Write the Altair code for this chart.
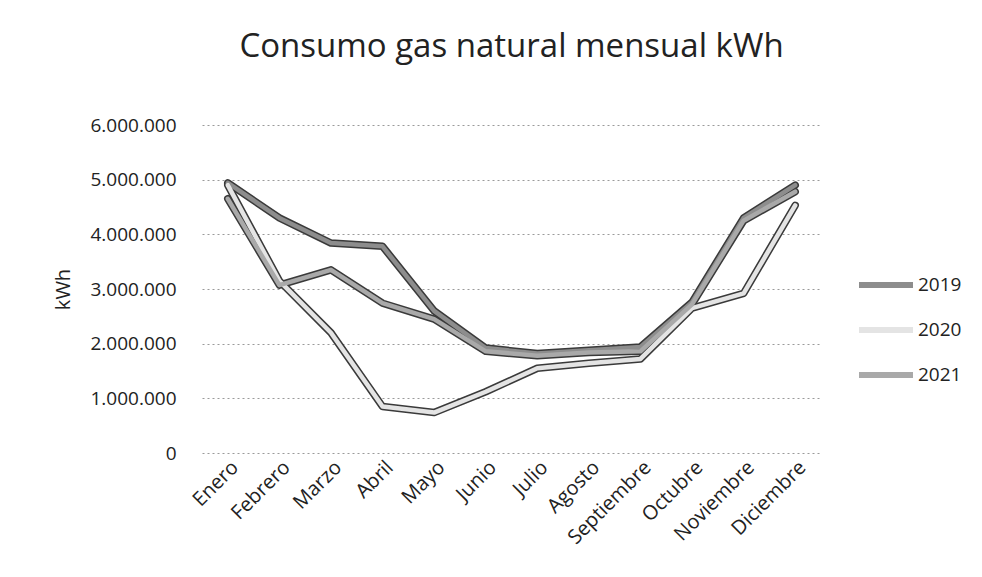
import altair as alt
import pandas as pd

meses = ["Enero", "Febrero", "Marzo", "Abril", "Mayo", "Junio", "Julio",
         "Agosto", "Septiembre", "Octubre", "Noviembre", "Diciembre"]
anios = ["2019", "2020", "2021"]
v2019 = [4940000, 4300000, 3840000, 3780000, 2600000, 1920000, 1820000,
         1880000, 1940000, 2760000, 4300000, 4900000]
v2020 = [4900000, 3150000, 2200000, 850000, 740000, 1120000, 1550000,
         1640000, 1720000, 2650000, 2920000, 4530000]
v2021 = [4650000, 3070000, 3350000, 2740000, 2450000, 1860000, 1780000,
         1840000, 1860000, 2720000, 4250000, 4780000]
colores = ["#8d8d8d", "#e4e4e4", "#a9a9a9"]
y_ticks = [0, 1000000, 2000000, 3000000, 4000000, 5000000, 6000000]

rows = []
for anio, serie in zip(anios, [v2019, v2020, v2021]):
    for m, v in zip(meses, serie):
        rows.append({"Mes": m, "Año": anio, "kWh": v})
df = pd.DataFrame(rows)

FONT = "Open Sans"

x_enc = alt.X("Mes:N", sort=meses,
              scale=alt.Scale(type="point", padding=0.5),
              axis=alt.Axis(title=None, labelAngle=-45, labelFontSize=20,
                            labelColor="#222", labelFont=FONT, ticks=False,
                            domain=False, grid=False, labelPadding=4))
y_enc = alt.Y("kWh:Q",
              scale=alt.Scale(domain=[0, 6000000], nice=False),
              axis=alt.Axis(values=y_ticks, title="kWh", titleFontSize=20,
                            titleFont=FONT, titleFontWeight="normal",
                            titleColor="#222", titleX=-129, titleY=164,
                            titleAngle=-90,
                            labelFontSize=19, labelFont=FONT, labelColor="#222",
                            labelPadding=26, ticks=False, domain=False,
                            grid=True, gridColor="#9a9a9a", gridDash=[2, 3],
                            gridWidth=1,
                            labelExpr="datum.value == 0 ? '0' : format(datum.value/1000000, 'd') + '.000.000'"))

base = alt.Chart(df)

outline = base.mark_line(strokeWidth=7.5, color="#3a3a3a",
                         strokeCap="round", strokeJoin="round").encode(
    x=x_enc, y=y_enc, detail="Año:N")

fill = base.mark_line(strokeWidth=4.5, strokeCap="round",
                      strokeJoin="round").encode(
    x=x_enc, y=y_enc,
    color=alt.Color("Año:N", sort=anios,
                    scale=alt.Scale(domain=anios, range=colores),
                    legend=alt.Legend(title=None, orient="none",
                                      legendX=654, legendY=130,
                                      symbolType="stroke", symbolSize=2916,
                                      symbolStrokeWidth=6,
                                      labelFontSize=19, labelFont=FONT,
                                      labelColor="#222", labelOffset=2,
                                      rowPadding=3)))

chart = alt.layer(outline, fill).properties(
    width=619, height=328,
    background="white",
    title=alt.TitleParams("Consumo gas natural mensual kWh", fontSize=33,
                          font=FONT, fontWeight="normal", color="#222",
                          anchor="middle", baseline="alphabetic", offset=26),
    autosize=alt.AutoSizeParams(type="none"),
    padding={"left": 194, "top": 117, "right": 153, "bottom": 116},
).configure_view(stroke="transparent", strokeWidth=0)

chart.save("out.html", embed_options={"renderer": "svg", "actions": False})
